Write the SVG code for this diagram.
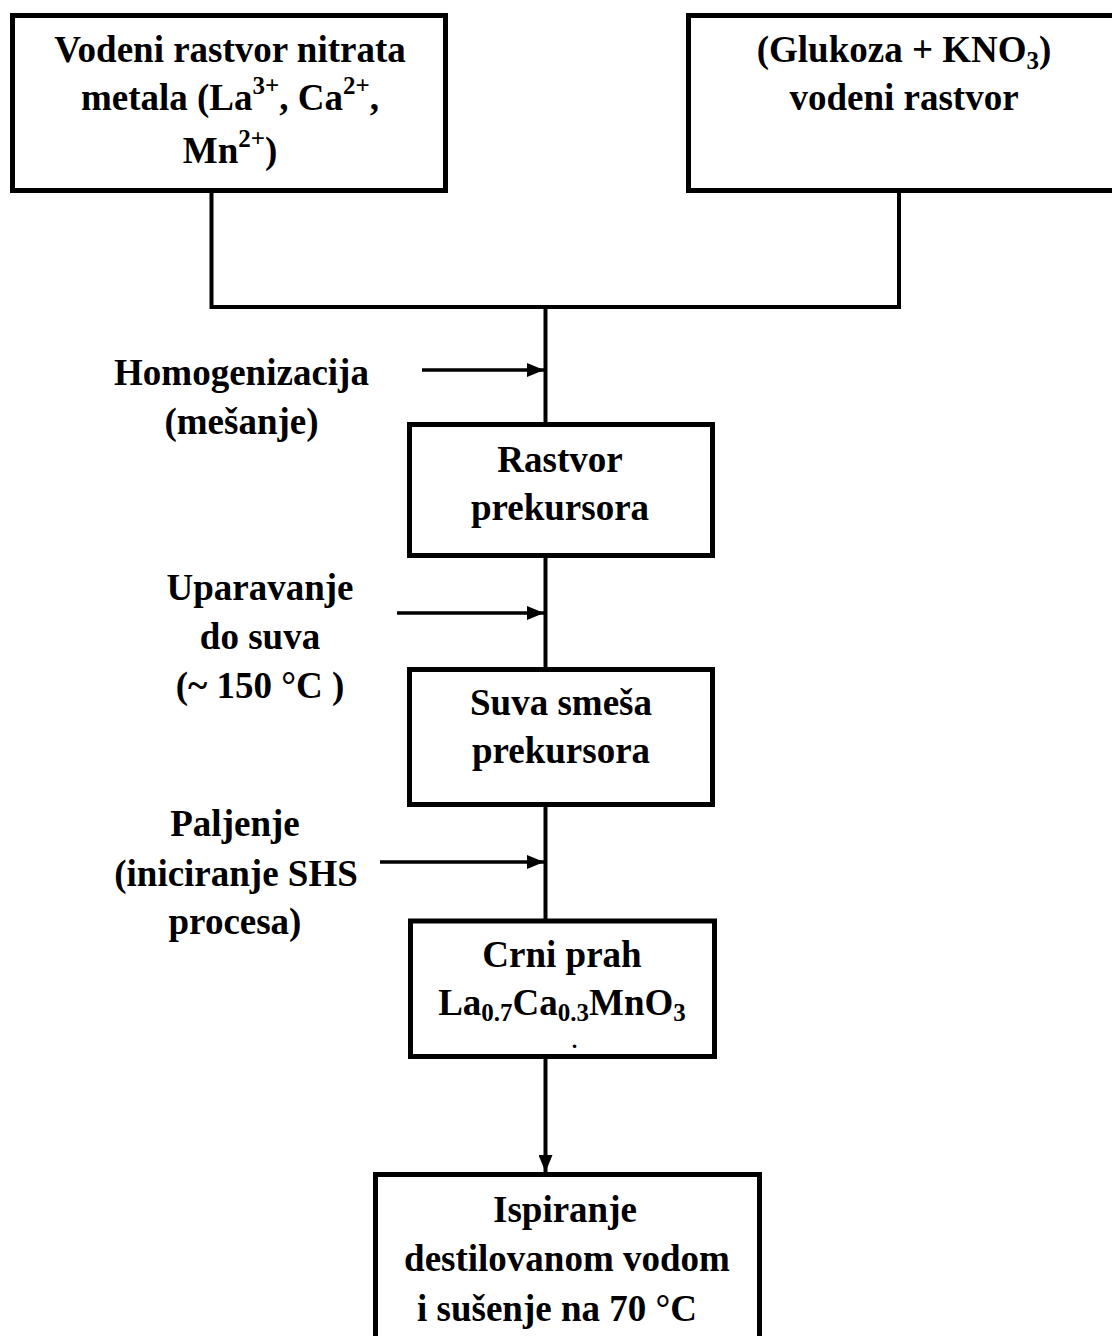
<svg xmlns="http://www.w3.org/2000/svg" width="1112" height="1336" viewBox="0 0 1112 1336">
<style>
text{font-family:"Liberation Serif","Times New Roman",serif;font-weight:bold;font-size:37px;fill:#000;text-anchor:middle}
.box{fill:#fff;stroke:#000;stroke-width:5}
.ln{fill:none;stroke:#000;stroke-width:4}
.ar{fill:none;stroke:#000;stroke-width:3.5}
.s{font-size:25px}
</style>
<defs>
<marker id="ah" markerUnits="userSpaceOnUse" markerWidth="18" markerHeight="14" refX="17" refY="7" orient="auto">
<path d="M0,0 L17,7 L0,14 Z" fill="#000"/>
</marker>
</defs>
<rect width="1112" height="1336" fill="#fff"/>
<g id="connectors">
<polyline class="ln" points="211.5,190 211.5,307 899,307 899,190"/>
<line class="ln" x1="545.5" y1="307" x2="545.5" y2="424"/>
<line class="ln" x1="545.5" y1="556" x2="545.5" y2="669"/>
<line class="ln" x1="545.5" y1="805" x2="545.5" y2="921"/>
<line class="ln" x1="545.5" y1="1057" x2="545.5" y2="1172" marker-end="url(#ah)"/>
<line class="ar" x1="422" y1="370" x2="544" y2="370" marker-end="url(#ah)"/>
<line class="ar" x1="397" y1="613" x2="544" y2="613" marker-end="url(#ah)"/>
<line class="ar" x1="380" y1="862" x2="544" y2="862" marker-end="url(#ah)"/>
</g>
<g id="n1">
<rect class="box" x="12.5" y="15.5" width="433" height="175"/>
<text x="230" y="62">Vodeni rastvor nitrata</text>
<text x="230" y="110">metala (La<tspan class="s" dy="-16">3+</tspan><tspan dy="16">, Ca</tspan><tspan class="s" dy="-16">2+</tspan><tspan dy="16">,</tspan></text>
<text x="230" y="163">Mn<tspan class="s" dy="-16">2+</tspan><tspan dy="16">)</tspan></text>
</g>
<g id="n2">
<rect class="box" x="688.5" y="15.5" width="450" height="175"/>
<text x="904" y="62">(Glukoza + KNO<tspan class="s" dy="7">3</tspan><tspan dy="-7">)</tspan></text>
<text x="904" y="110">vodeni rastvor</text>
</g>
<g id="l1">
<text x="241.5" y="385">Homogenizacija</text>
<text x="241.5" y="434">(mešanje)</text>
</g>
<g id="n3">
<rect class="box" x="409.5" y="424.5" width="303" height="131"/>
<text x="560" y="472">Rastvor</text>
<text x="560" y="520">prekursora</text>
</g>
<g id="l2">
<text x="260" y="600">Uparavanje</text>
<text x="260" y="649">do suva</text>
<text x="260" y="698">(~ 150 °C )</text>
</g>
<g id="n4">
<rect class="box" x="409.5" y="669.5" width="303" height="135"/>
<text x="561" y="715">Suva smeša</text>
<text x="561" y="763">prekursora</text>
</g>
<g id="l3">
<text x="235" y="836">Paljenje</text>
<text x="236" y="886">(iniciranje SHS</text>
<text x="235" y="934">procesa)</text>
</g>
<g id="n5">
<rect class="box" x="410.5" y="921" width="304" height="135.5"/>
<text x="562" y="967">Crni prah</text>
<text x="562" y="1015">La<tspan class="s" dy="6">0.7</tspan><tspan dy="-6">Ca</tspan><tspan class="s" dy="6">0.3</tspan><tspan dy="-6">MnO</tspan><tspan class="s" dy="6">3</tspan></text>
<text x="574.5" y="1048" style="font-size:22px">.</text>
</g>
<g id="n6">
<rect class="box" x="375.5" y="1174.5" width="384" height="200"/>
<text x="565" y="1222">Ispiranje</text>
<text x="567" y="1271">destilovanom vodom</text>
<text x="557" y="1321">i sušenje na 70 °C</text>
</g>
</svg>
